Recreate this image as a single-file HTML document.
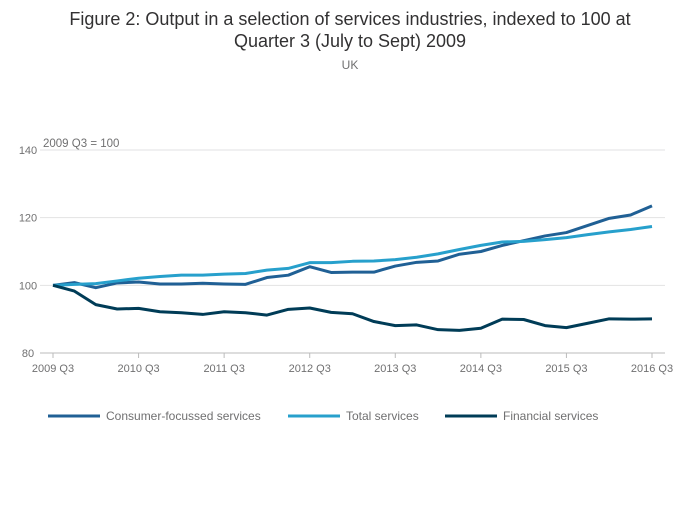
<!DOCTYPE html>
<html><head><meta charset="utf-8"><style>
body{margin:0;background:#fff;font-family:"Liberation Sans",sans-serif;}
svg text{font-family:"Liberation Sans",sans-serif;}
</style></head><body>
<svg width="700" height="502" viewBox="0 0 700 502">
<text x="350" y="25" text-anchor="middle" font-size="18" fill="#323132">Figure 2: Output in a selection of services industries, indexed to 100 at</text>
<text x="350" y="47" text-anchor="middle" font-size="18" fill="#323132">Quarter 3 (July to Sept) 2009</text>
<text x="350" y="69" text-anchor="middle" font-size="12" fill="#707071">UK</text>
<text x="43" y="147" font-size="11.5" fill="#707071">2009 Q3 = 100</text>
<g id="grid"></g><g id="xaxis"></g><g id="series"></g><g id="legend"></g>
</svg>
<script>
const xLabels=["2009 Q3","2010 Q3","2011 Q3","2012 Q3","2013 Q3","2014 Q3","2015 Q3","2016 Q3"];
const yTicks=[80,100,120,140];
const consumer=[100,100.8,99.3,100.7,101,100.4,100.4,100.6,100.4,100.3,102.3,103,105.5,103.8,103.9,103.9,105.7,106.8,107.2,109.2,110,111.8,113.2,114.6,115.6,117.7,119.8,120.8,123.5];
const total=[100,100.3,100.5,101.3,102.1,102.6,103,103,103.3,103.5,104.5,105,106.7,106.7,107.1,107.2,107.6,108.3,109.3,110.6,111.8,112.8,113,113.5,114.1,115,115.8,116.5,117.4];
const financial=[100,98.3,94.3,93,93.2,92.2,91.9,91.4,92.2,91.9,91.2,92.9,93.3,92,91.6,89.3,88.1,88.3,86.9,86.7,87.3,90,89.9,88.1,87.5,88.8,90.1,90,90.1];
const seriesNames=["Consumer-focussed services","Total services","Financial services"];
const NS="http://www.w3.org/2000/svg";
const x0=53,x1=652,yMin=80,yMax=140,yB=353,yT=150;
const n=consumer.length;
const xs=i=>x0+(x1-x0)*i/(n-1);
const ys=v=>yB-(v-yMin)*(yB-yT)/(yMax-yMin);
function mk(t,a,p){const e=document.createElementNS(NS,t);for(const k in a)e.setAttribute(k,a[k]);p.appendChild(e);return e;}
const grid=document.getElementById('grid');
yTicks.forEach(v=>{
 const l=mk('line',{x1:40,x2:665,y1:ys(v),y2:ys(v),stroke:v===80?'#bbb':'#e2e2e3','stroke-width':1},grid);
 
 
 const t=mk('text',{x:28,y:ys(v)+4,'font-size':11,fill:'#707071','text-anchor':'middle'},grid);t.textContent=v;
 
 
});
const xa=document.getElementById('xaxis');
xLabels.forEach((s,j)=>{
 const x=xs(j*4);
 const tk=mk('line',{x1:x,x2:x,y1:yB,y2:yB+5,stroke:'#bbb'},xa);
 
 
 const t=mk('text',{x:x,y:372,'font-size':11,fill:'#707071','text-anchor':'middle'},xa);t.textContent=s;
 
 
});
const sg=document.getElementById('series');
const colors=["#206095","#27a0cc","#003c57"];
[consumer,total,financial].forEach((d,k)=>{
 const p=mk('polyline',{points:d.map((v,i)=>xs(i)+','+ys(v)).join(' '),fill:'none',stroke:colors[k],'stroke-width':3,'stroke-linejoin':'round'},sg);
 
 
});
const lg=document.getElementById('legend');
const lx=[48,288,445];
seriesNames.forEach((s,k)=>{
 const l=mk('line',{x1:lx[k],x2:lx[k]+52,y1:416,y2:416,stroke:colors[k],'stroke-width':3},lg);
 
 
 const t=mk('text',{x:lx[k]+58,y:420,'font-size':12,fill:'#707071'},lg);t.textContent=s;
 
 
});
</script>
</body></html>
